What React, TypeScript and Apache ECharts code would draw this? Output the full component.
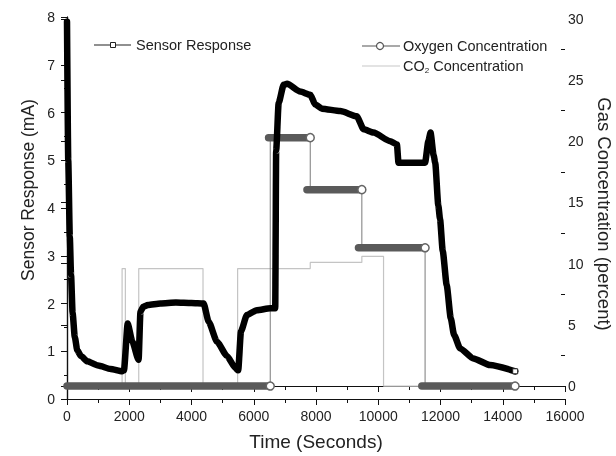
import React, { useEffect, useRef } from "react";
import * as echarts from "echarts";

// Sensor response (mA), left axis
const sensorTime = [0, 40, 90, 130, 180, 250, 330, 450, 650, 1000, 1400, 1770, 1830, 1950, 2100, 2300, 2360, 2450, 2600, 3000, 3500, 4000, 4390, 4550, 4820, 5140, 5410, 5500, 5590, 5780, 6100, 6530, 6690, 6720, 6800, 6960, 7070, 7490, 7815, 7975, 8190, 8780, 9310, 9530, 9850, 10380, 10600, 10650, 11505, 11610, 11680, 11780, 11830, 11930, 11985, 12072, 12200, 12330, 12436, 12628, 13055, 13590, 14400];
const sensorValue = [7.9, 5.0, 3.4, 2.6, 1.8, 1.3, 1.02, 0.9, 0.79, 0.7, 0.63, 0.58, 0.6, 1.58, 1.2, 0.82, 1.83, 1.93, 1.97, 2.0, 2.02, 2.01, 2.0, 1.62, 1.2, 0.9, 0.65, 0.6, 1.42, 1.76, 1.86, 1.9, 1.9, 5.2, 6.2, 6.58, 6.6, 6.44, 6.37, 6.17, 6.08, 6.03, 5.92, 5.65, 5.58, 5.4, 5.33, 4.95, 4.95, 5.4, 5.58, 5.1, 4.95, 4.05, 3.77, 3.1, 2.38, 1.69, 1.34, 1.06, 0.85, 0.71, 0.58];

// Oxygen concentration (%) segments, right axis
const o2Start = [0, 6476, 7710, 9365, 11400];
const o2End = [6530, 7815, 9473, 11505, 14395];
const o2Level = [0, 20.3, 16.05, 11.3, 0];

// CO2 concentration (%) step trace, right axis
const co2Time = [0, 1770, 1770, 1875, 1875, 2305, 2305, 4370, 4370, 5482, 5482, 7815, 7815, 9473, 9473, 10170, 10170, 14400];
const co2Value = [0, 0, 9.6, 9.6, 0, 0, 9.6, 9.6, 0, 0, 9.6, 9.6, 10.1, 10.1, 10.6, 10.6, 0, 0];

const xTicks = { min: 0, max: 16000, interval: 2000 };
const leftTicks = { min: 0, max: 8, interval: 1 };
const rightMajor = [0, 5, 10, 15, 20, 25, 30];
const rightMinor = [2.5, 7.5, 12.5, 17.5, 22.5, 27.5];

const FONT = "Liberation Sans, Arial, sans-serif";
const INK = "#222";

export default function App() {
  const ref = useRef<HTMLDivElement>(null);
  useEffect(() => {
    if (!ref.current) return;
    const chart = echarts.init(ref.current, undefined, { renderer: "svg" });

    const sensorData: any[] = sensorTime.map((t, i) => [t, sensorValue[i]]);
    const lastIdx = sensorData.length - 1;
    sensorData[lastIdx] = {
      value: sensorData[lastIdx],
      symbol: "rect",
      symbolSize: 5,
      itemStyle: { color: "#fff", borderColor: "#222", borderWidth: 1 },
    };

    const o2Thin: number[][] = [];
    o2Start.forEach((_, i) => {
      if (i > 0) o2Thin.push([o2End[i - 1], o2Level[i]]);
      o2Thin.push([o2End[i], o2Level[i]]);
    });
    o2Thin.unshift([0, o2Level[0]]);

    const o2Series = o2Start.map((s, i) => ({
      name: "Oxygen Concentration",
      type: "line",
      yAxisIndex: 1,
      z: 3,
      showSymbol: true,
      lineStyle: { color: "#5a5a5a", width: 7.5, cap: "round" },
      data: [
        { value: [s, o2Level[i]], symbol: "none" },
        {
          value: [o2End[i], o2Level[i]],
          symbol: "circle",
          symbolSize: 8,
          itemStyle: { color: "#fff", borderColor: "#666", borderWidth: 1.5 },
        },
      ],
    }));

    const axisLine = { show: true, lineStyle: { color: "#111", width: 1.2 } };
    const labelStyle = { fontSize: 14, color: INK, fontFamily: FONT };
    const legendFont = { fontSize: 14.5, fill: INK, fontFamily: FONT };

    chart.setOption({
      animation: false,
      grid: { left: 67, right: 51, top: 17, bottom: 55 },
      xAxis: [
        {
          type: "value",
          position: "bottom",
          ...xTicks,
          axisLine,
          axisTick: { show: true, inside: false, length: 6, lineStyle: { color: "#111" } },
          minorTick: { show: true, splitNumber: 2, length: 4, lineStyle: { color: "#111" } },
          splitLine: { show: false },
          axisLabel: { ...labelStyle, margin: 10, formatter: (v: number) => String(v) },
          name: "Time (Seconds)",
          nameLocation: "middle",
          nameGap: 33,
          nameTextStyle: { fontSize: 19, color: INK, fontFamily: FONT },
        },
        {
          type: "value",
          position: "top",
          ...xTicks,
          axisLine,
          axisTick: { show: true, inside: true, length: 6, lineStyle: { color: "#111" } },
          minorTick: { show: true, splitNumber: 2, length: 4, lineStyle: { color: "#111" } },
          splitLine: { show: false },
          axisLabel: { show: false },
        },
      ],
      yAxis: [
        {
          type: "value",
          position: "left",
          ...leftTicks,
          axisLine,
          axisTick: { show: true, inside: false, length: 6, lineStyle: { color: "#111" } },
          minorTick: { show: true, splitNumber: 2, length: 3, lineStyle: { color: "#111" } },
          splitLine: { show: false },
          axisLabel: { ...labelStyle, margin: 12 },
        },
        {
          type: "value",
          position: "right",
          min: -1.06,
          max: 30.16,
          axisLine,
          axisTick: { show: true, inside: true, length: 6, customValues: rightMajor, lineStyle: { color: "#111" } },
          splitLine: { show: false },
          axisLabel: { ...labelStyle, margin: 3, customValues: rightMajor },
        },
        {
          type: "value",
          position: "right",
          min: -1.06,
          max: 30.16,
          axisLine: { show: false },
          axisTick: { show: true, inside: true, length: 4, customValues: rightMinor, lineStyle: { color: "#111" } },
          splitLine: { show: false },
          axisLabel: { show: false },
        },
      ],
      graphic: [
        {
          type: "text",
          x: 28,
          y: 190,
          rotation: Math.PI / 2,
          style: { text: "Sensor Response (mA)", fontSize: 17.5, fill: INK, fontFamily: FONT, align: "center", verticalAlign: "middle" },
        },
        {
          type: "text",
          x: 604,
          y: 214,
          rotation: -Math.PI / 2,
          style: { text: "Gas Concentration (percent)", fontSize: 18.5, fill: INK, fontFamily: FONT, align: "center", verticalAlign: "middle" },
        },
        { type: "line", shape: { x1: 94, y1: 45, x2: 131, y2: 45 }, style: { stroke: "#222", lineWidth: 1.2 } },
        { type: "rect", shape: { x: 110.5, y: 42.5, width: 5, height: 5 }, style: { fill: "#fff", stroke: "#222", lineWidth: 1 } },
        { type: "text", x: 136, y: 45, style: { text: "Sensor Response", ...legendFont, verticalAlign: "middle" } },
        { type: "line", shape: { x1: 362, y1: 46, x2: 400, y2: 46 }, style: { stroke: "#555", lineWidth: 1.2 } },
        { type: "circle", shape: { cx: 380, cy: 46, r: 3.5 }, style: { fill: "#fff", stroke: "#555", lineWidth: 1.2 } },
        { type: "text", x: 403, y: 46, style: { text: "Oxygen Concentration", ...legendFont, verticalAlign: "middle" } },
        { type: "line", shape: { x1: 362, y1: 66, x2: 400, y2: 66 }, style: { stroke: "#c8c8c8", lineWidth: 1.2 } },
        {
          type: "text",
          x: 403,
          y: 66,
          style: {
            text: "{a|CO}{s|2}{a| Concentration}",
            verticalAlign: "middle",
            rich: {
              a: { ...legendFont, lineHeight: 16 },
              s: { fontSize: 8, fill: INK, fontFamily: FONT, lineHeight: 16, padding: [8, 0, 0, 0] },
            },
          },
        },
      ],
      series: [
        {
          name: "CO₂ Concentration",
          type: "line",
          yAxisIndex: 1,
          z: 1,
          symbol: "none",
          lineStyle: { color: "#c4c4c4", width: 1.2 },
          data: co2Time.map((t, i) => [t, co2Value[i]]),
        },
        {
          name: "Oxygen Concentration (steps)",
          type: "line",
          yAxisIndex: 1,
          z: 2,
          symbol: "none",
          lineStyle: { color: "#7a7a7a", width: 1 },
          data: o2Thin,
        },
        ...o2Series,
        {
          name: "Sensor Response",
          type: "line",
          yAxisIndex: 0,
          z: 4,
          showSymbol: true,
          symbol: "none",
          smooth: 0.2,
          smoothMonotone: "x",
          lineStyle: { color: "#000", width: 6.5, join: "round", cap: "round" },
          data: sensorData,
        },
      ],
    });
    return () => chart.dispose();
  }, []);
  return <div ref={ref} style={{ position: "fixed", left: 0, top: 0, width: 616, height: 456 }} />;
}
